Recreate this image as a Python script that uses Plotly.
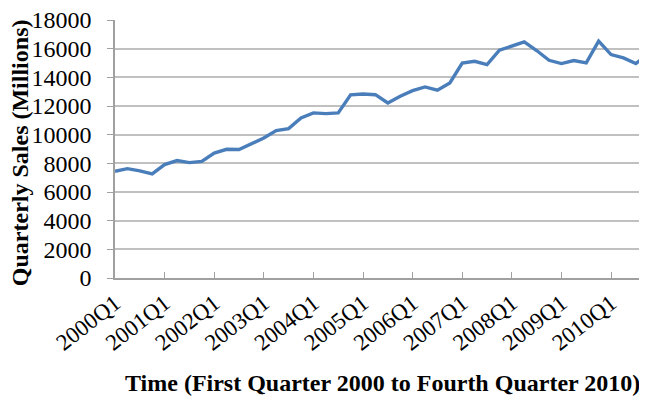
import plotly.graph_objects as go

years = list(range(2000, 2011))
quarters = [f"{y}Q{q}" for y in years for q in range(1, 5)]
sales = [7440, 7630, 7470, 7260, 7910, 8190, 8050, 8140, 8720, 8980,
         8960, 9350, 9770, 10280, 10420, 11170, 11520, 11470, 11520, 12780,
         12840, 12790, 12210, 12680, 13070, 13330, 13100, 13610, 14990, 15120,
         14890, 15890, 16170, 16470, 15870, 15190, 14960, 15170, 15010, 16520,
         15590, 15360, 14960, 15650]
y_ticks = list(range(0, 18001, 2000))
y_tick_labels = [str(v) for v in y_ticks]
x_tick_labels = [f"{y}Q1" for y in years]

idx = list(range(len(quarters)))
fig = go.Figure()
fig.add_trace(go.Scatter(x=idx, y=sales, mode="lines",
                         line=dict(color="#4a7ebb", width=3.4),
                         hoverinfo="skip", showlegend=False))

serif = "Liberation Serif, Times New Roman, serif"
# page body has an 8px default margin: figure drawn at (8, 8)
fig.update_layout(
    width=639, height=389,
    margin=dict(l=107, r=0, t=12, b=119, autoexpand=False),
    paper_bgcolor="white", plot_bgcolor="white",
    xaxis=dict(range=[0, 42.9], tickmode="array", automargin=False,
               tickvals=[i for i in idx if quarters[i].endswith("Q1")],
               ticktext=x_tick_labels, tickangle=-38,
               ticks="inside", ticklen=6, tickcolor="#a0a0a0",
               showline=True, linecolor="#a0a0a0", linewidth=1.5,
               showgrid=False, zeroline=False, ticklabelstandoff=1,
               ticklabeloverflow="allow",
               tickfont=dict(family=serif, size=23, color="black")),
    yaxis=dict(range=[0, 18000], tickmode="array", automargin=False,
               tickvals=y_ticks, ticktext=y_tick_labels,
               ticks="outside", ticklen=6, tickcolor="#a0a0a0",
               showline=True, linecolor="#a0a0a0", linewidth=1.5,
               showgrid=True, gridcolor="#c0c0c0", gridwidth=1.5,
               zeroline=False, ticklabelstandoff=11,
               ticklabeloverflow="allow",
               tickfont=dict(family=serif, size=24, color="black")),
    annotations=[
        dict(text="<b>Quarterly Sales (Millions)</b>", textangle=-90,
             xref="paper", yref="paper", x=-0.178, y=0.485,
             showarrow=False, xanchor="center", yanchor="middle",
             font=dict(family=serif, size=24, color="black")),
        dict(text="<b>Time (First Quarter 2000 to Fourth Quarter 2010)</b>",
             xref="paper", yref="paper", x=0.502, y=-0.407,
             showarrow=False, xanchor="center", yanchor="middle",
             font=dict(family=serif, size=24, color="black")),
    ],
)
fig.write_html("out.html")
